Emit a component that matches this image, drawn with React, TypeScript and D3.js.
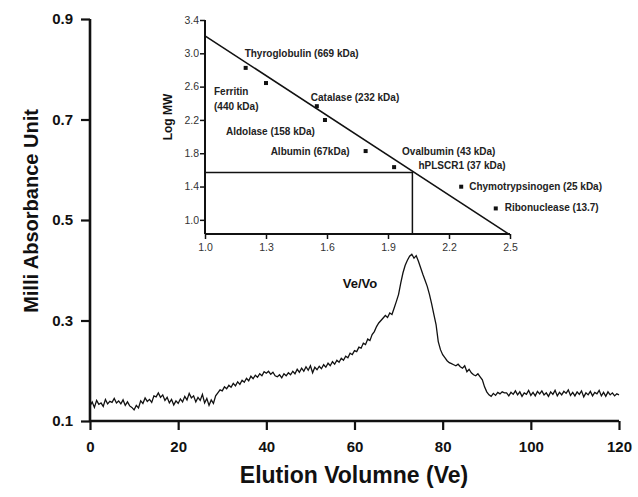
import React, { useEffect, useRef } from "react";
import * as d3 from "d3";

// main chromatogram: absorbance every 0.5 mL from 0 to 120
const absorbance = [
  0.130, 0.138, 0.127, 0.141, 0.133, 0.136, 0.129, 0.143, 0.134, 0.139,
  0.137, 0.145, 0.136, 0.140, 0.134, 0.142, 0.131, 0.138, 0.130, 0.127,
  0.122, 0.131, 0.126, 0.140, 0.135, 0.146, 0.139, 0.143, 0.137, 0.150,
  0.148, 0.156, 0.147, 0.152, 0.141, 0.147, 0.136, 0.143, 0.132, 0.140,
  0.135, 0.144, 0.138, 0.149, 0.142, 0.155, 0.146, 0.150, 0.138, 0.147,
  0.141, 0.153, 0.136, 0.145, 0.131, 0.142, 0.135, 0.150, 0.156, 0.162,
  0.160, 0.168, 0.164, 0.171, 0.167, 0.175, 0.170, 0.178, 0.173, 0.181,
  0.177, 0.185, 0.180, 0.189, 0.184, 0.191, 0.187, 0.194, 0.190, 0.198,
  0.195, 0.199, 0.193, 0.197, 0.190, 0.188, 0.192, 0.186, 0.194, 0.190,
  0.196, 0.192, 0.199, 0.194, 0.203, 0.197, 0.205, 0.199, 0.208, 0.201,
  0.210, 0.196, 0.207, 0.202, 0.209, 0.204, 0.212, 0.207, 0.215, 0.210,
  0.218, 0.213, 0.221, 0.217, 0.225, 0.221, 0.229, 0.226, 0.235, 0.232,
  0.240, 0.238, 0.247, 0.245, 0.255, 0.252, 0.263, 0.260, 0.272, 0.278,
  0.288, 0.295, 0.300, 0.305, 0.310, 0.306, 0.315, 0.312, 0.325, 0.338,
  0.352, 0.375, 0.395, 0.410, 0.420, 0.428, 0.432, 0.424, 0.429, 0.418,
  0.405, 0.392, 0.380, 0.368, 0.352, 0.333, 0.312, 0.292, 0.258, 0.242,
  0.232, 0.226, 0.220, 0.216, 0.214, 0.212, 0.210, 0.213, 0.208, 0.205,
  0.210, 0.198, 0.203, 0.196, 0.192, 0.190, 0.194, 0.188, 0.182, 0.168,
  0.158, 0.152, 0.149, 0.155, 0.151, 0.157, 0.154, 0.158, 0.156, 0.156,
  0.150, 0.157, 0.153, 0.160, 0.152, 0.158, 0.149, 0.156, 0.153, 0.161,
  0.151, 0.157, 0.150, 0.159, 0.154, 0.160, 0.152, 0.156, 0.149, 0.158,
  0.153, 0.161, 0.150, 0.157, 0.152, 0.159, 0.155, 0.162, 0.151, 0.157,
  0.150, 0.158, 0.153, 0.160, 0.148, 0.156, 0.152, 0.159, 0.150, 0.157,
  0.154, 0.161, 0.150, 0.157, 0.149, 0.158, 0.152, 0.156, 0.150, 0.154,
  0.152,
];
const STEP = 0.5;
const xTicks = [0, 20, 40, 60, 80, 100, 120];
const yTicks = [0.1, 0.3, 0.5, 0.7, 0.9];

// inset calibration
const proteins = ["Thyroglobulin", "Ferritin", "Catalase", "Aldolase", "Albumin", "Ovalbumin", "Chymotrypsinogen", "Ribonuclease"];
const veVo = [1.20, 1.30, 1.55, 1.59, 1.79, 1.93, 2.26, 2.43];
const logMw = [2.825, 2.643, 2.365, 2.199, 1.826, 1.633, 1.398, 1.137];
const fitX = [1.0, 2.5];
const fitY = [3.21, 0.82];
const sample = { name: "hPLSCR1", veVo: 2.02, logMw: 1.568 };
const insetXTicks = [1.0, 1.3, 1.6, 1.9, 2.2, 2.5];
const insetYTicks = [1.0, 1.4, 1.8, 2.2, 2.6, 3.0, 3.4];

// label text lines and offsets from each point (px)
const labels = [
  { lines: ["Thyroglobulin (669 kDa)"], dx: -1, dy: -11 },
  { lines: ["Ferritin", "(440 kDa)"], dx: -52, dy: 12 },
  { lines: ["Catalase (232 kDa)"], dx: -6, dy: -5 },
  { lines: ["Aldolase (158 kDa)"], dx: -99, dy: 15 },
  { lines: ["Albumin (67kDa)"], dx: -95, dy: 4 },
  { lines: ["Ovalbumin (43 kDa)"], dx: 8, dy: -12 },
  { lines: ["Chymotrypsinogen (25 kDa)"], dx: 8, dy: 3 },
  { lines: ["Ribonuclease (13.7)"], dx: 9, dy: 3 },
];

const FONT = "Liberation Sans, Arial, sans-serif";

const App = () => {
  const svgRef = useRef<SVGSVGElement>(null);

  useEffect(() => {
    const svg = d3.select(svgRef.current);
    svg.selectAll("*").remove();

    // ── Main chart ────────────────────────────────────────────
    const x = d3.scaleLinear().domain([0, 120]).range([90, 619]);
    const y = d3.scaleLinear().domain([0.1, 0.9]).range([421, 19]);

    svg.append("path")
      .datum(absorbance)
      .attr("d", d3.line<number>().x((_, i) => x(i * STEP)).y(d => y(d)))
      .attr("fill", "none")
      .attr("stroke", "#111")
      .attr("stroke-width", 1.3);

    const xAx = svg.append("g")
      .attr("transform", `translate(0,${y(0.1)})`)
      .call(d3.axisBottom(x).tickValues(xTicks).tickSize(9).tickPadding(11).tickFormat(d3.format("d")));
    const yAx = svg.append("g")
      .attr("transform", `translate(${x(0)},0)`)
      .call(d3.axisLeft(y).tickValues(yTicks).tickSize(9).tickPadding(8).tickFormat(d3.format(".1f")));
    [xAx, yAx].forEach(ax => {
      ax.select(".domain").attr("stroke", "#111").attr("stroke-width", 2.6);
      ax.selectAll(".tick line").attr("stroke", "#111").attr("stroke-width", 2.2);
      ax.selectAll(".tick text")
        .attr("font-family", FONT).attr("font-size", "15px").attr("font-weight", "700").attr("fill", "#111");
    });
    yAx.select(".domain").attr("d", `M0,${y(0.9)}V${y(0.1)}`);
    xAx.select(".domain").attr("d", `M0,0H${x(120) - x(0)}`).attr("transform", `translate(${x(0)},0)`);

    svg.append("text")
      .attr("transform", `translate(38,211) rotate(-90)`)
      .attr("text-anchor", "middle")
      .attr("font-family", FONT).attr("font-size", "20px").attr("font-weight", "700").attr("fill", "#111")
      .text("Milli Absorbance Unit");

    svg.append("text")
      .attr("x", 354).attr("y", 483)
      .attr("text-anchor", "middle")
      .attr("font-family", FONT).attr("font-size", "23px").attr("font-weight", "700").attr("fill", "#111")
      .text("Elution Volumne (Ve)");

    // ── Inset calibration plot ───────────────────────────────
    const ix = d3.scaleLinear().domain([1.0, 2.5]).range([205, 510]);
    const iy = d3.scaleLinear().domain([0.83, 3.4]).range([234, 20]);
    const g = svg.append("g");

    const ixAx = g.append("g")
      .attr("transform", `translate(0,${iy(0.83)})`)
      .call(d3.axisBottom(ix).tickValues(insetXTicks).tickSize(5).tickPadding(5).tickFormat(d3.format(".1f")));
    const iyAx = g.append("g")
      .attr("transform", `translate(${ix(1.0)},0)`)
      .call(d3.axisLeft(iy).tickValues(insetYTicks).tickSize(5).tickPadding(1).tickFormat(d3.format(".1f")));
    [ixAx, iyAx].forEach(ax => {
      ax.select(".domain").attr("stroke", "#111").attr("stroke-width", 2);
      ax.selectAll(".tick line").attr("stroke", "#111").attr("stroke-width", 1.5);
      ax.selectAll(".tick text")
        .attr("font-family", FONT).attr("font-size", "10.5px").attr("fill", "#333");
    });
    ixAx.select(".domain").attr("d", `M${ix(1.0)},0H${ix(2.5)}`);
    iyAx.select(".domain").attr("d", `M0,${iy(3.4)}V${iy(0.83)}`);

    // fit line
    g.append("line")
      .attr("x1", ix(fitX[0])).attr("y1", iy(fitY[0]))
      .attr("x2", ix(fitX[1])).attr("y2", iy(fitY[1]))
      .attr("stroke", "#111").attr("stroke-width", 1.6);

    // sample reference lines
    g.append("path")
      .attr("d", `M${ix(1.0)},${iy(sample.logMw)}H${ix(sample.veVo)}V${iy(0.83)}`)
      .attr("fill", "none").attr("stroke", "#111").attr("stroke-width", 1.5);

    g.selectAll(".pt")
      .data(proteins)
      .join("rect")
      .attr("x", (_, i) => ix(veVo[i]) - 2).attr("y", (_, i) => iy(logMw[i]) - 2)
      .attr("width", 4).attr("height", 4)
      .attr("fill", "#111");

    proteins.forEach((_, i) => {
      const lb = labels[i];
      const t = g.append("text")
        .attr("x", ix(veVo[i]) + lb.dx).attr("y", iy(logMw[i]) + lb.dy)
        .attr("font-family", FONT).attr("font-size", "10px").attr("font-weight", "700").attr("fill", "#222");
      lb.lines.forEach((ln, k) => {
        t.append("tspan").attr("x", ix(veVo[i]) + lb.dx).attr("dy", k === 0 ? 0 : 15).text(ln);
      });
    });

    g.append("text")
      .attr("x", ix(sample.veVo) + 6).attr("y", iy(sample.logMw) - 4)
      .attr("font-family", FONT).attr("font-size", "10px").attr("font-weight", "700").attr("fill", "#222")
      .text(`${sample.name} (37 kDa)`);

    g.append("text")
      .attr("transform", `translate(172,117) rotate(-90)`)
      .attr("text-anchor", "middle")
      .attr("font-family", FONT).attr("font-size", "12px").attr("font-weight", "700").attr("fill", "#111")
      .text("Log MW");

    g.append("text")
      .attr("x", 360).attr("y", 288)
      .attr("text-anchor", "middle")
      .attr("font-family", FONT).attr("font-size", "13px").attr("font-weight", "700").attr("fill", "#111")
      .text("Ve/Vo");
  }, []);

  return (
    <svg
      ref={svgRef}
      width={638}
      height={497}
      style={{ position: "absolute", left: 0, top: 0, background: "#fff" }}
    />
  );
};

export default App;
